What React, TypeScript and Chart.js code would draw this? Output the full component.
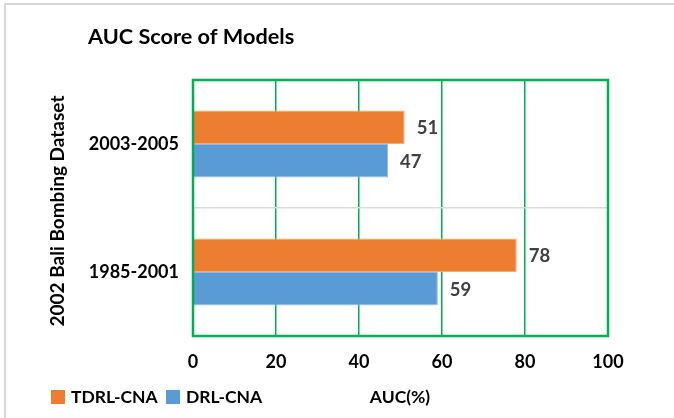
import { useEffect, useRef } from "react";
import { Chart, registerables } from "chart.js";

Chart.register(...registerables);

const categories = ["2003-2005", "1985-2001"];
const tdrlValues = [51, 78];
const drlValues = [47, 59];
const seriesNames = ["TDRL-CNA", "DRL-CNA"];
const xMin = 0;
const xMax = 100;
const xStep = 20;
const chartTitle = "AUC Score of Models";
const xAxisTitle = "AUC(%)";
const yAxisTitle = "2002 Bali Bombing Dataset";

const ORANGE = "#ED7D31";
const BLUE = "#5B9BD5";
const GREEN = "#00B050";
const FONT = "Lato, 'Open Sans', sans-serif";

export default function App() {
  const ref = useRef<HTMLCanvasElement | null>(null);

  useEffect(() => {
    if (!ref.current) return;

    const decor = {
      id: "decor",
      beforeDraw(chart: any) {
        const ctx = chart.ctx;
        ctx.save();
        ctx.fillStyle = "#ffffff";
        ctx.fillRect(0, 0, chart.width, chart.height);
        ctx.strokeStyle = "#d9d9d9";
        ctx.lineWidth = 2;
        ctx.beginPath();
        ctx.moveTo(5, chart.height);
        ctx.lineTo(5, 4);
        ctx.lineTo(chart.width, 4);
        ctx.stroke();
        ctx.restore();
      },
      afterDatasetsDraw(chart: any) {
        const ctx = chart.ctx;
        const a = chart.chartArea;
        ctx.save();
        ctx.strokeStyle = GREEN;
        ctx.lineWidth = 2.5;
        ctx.strokeRect(a.left, a.top, a.right - a.left, a.bottom - a.top);
        ctx.font = `bold 18.5px ${FONT}`;
        ctx.fillStyle = "#404040";
        ctx.textAlign = "left";
        ctx.textBaseline = "middle";
        chart.data.datasets.forEach((ds: any, di: number) => {
          const meta = chart.getDatasetMeta(di);
          meta.data.forEach((bar: any, i: number) => {
            ctx.fillText(String(ds.data[i]), bar.x + 12, bar.y + 1);
          });
        });
        ctx.restore();
      },
      afterDraw(chart: any) {
        const ctx = chart.ctx;
        ctx.save();
        ctx.fillStyle = "#000000";
        ctx.textBaseline = "middle";
        ctx.textAlign = "left";
        ctx.font = `bold 21.7px ${FONT}`;
        ctx.fillText(chartTitle, 88, 37);
        ctx.font = `bold 17.5px ${FONT}`;
        ctx.textAlign = "center";
        ctx.fillText(xAxisTitle, 400, 397);
        ctx.save();
        ctx.font = `bold 19px ${FONT}`;
        ctx.translate(58, 211);
        ctx.rotate(-Math.PI / 2);
        ctx.fillText(yAxisTitle, 0, 0);
        ctx.restore();
        // legend
        ctx.textAlign = "left";
        const colors = [ORANGE, BLUE];
        const boxX = [51, 166];
        const textX = [71, 186];
        seriesNames.forEach((n, i) => {
          ctx.fillStyle = colors[i];
          ctx.fillRect(boxX[i], 390, 14, 14);
          ctx.fillStyle = "#000000";
          ctx.fillText(n, textX[i], 397);
        });
        ctx.restore();
      },
    };

    const chart = new Chart(ref.current, {
      type: "bar",
      data: {
        labels: categories,
        datasets: [
          {
            label: seriesNames[0],
            data: tdrlValues,
            backgroundColor: ORANGE,
            borderColor: "#F5A870",
            borderWidth: 1,
            categoryPercentage: 0.525,
            barPercentage: 1,
          },
          {
            label: seriesNames[1],
            data: drlValues,
            backgroundColor: BLUE,
            borderColor: "#8DBDE6",
            borderWidth: 1,
            categoryPercentage: 0.525,
            barPercentage: 1,
          },
        ],
      },
      options: {
        indexAxis: "y",
        animation: false,
        responsive: true,
        maintainAspectRatio: false,
        layout: { padding: { top: 80, right: 66, left: 0, bottom: 0 } },
        plugins: {
          legend: { display: false },
          title: { display: false },
          tooltip: { enabled: false },
        },
        scales: {
          x: {
            min: xMin,
            max: xMax,
            ticks: {
              stepSize: xStep,
              color: "#000000",
              font: { family: FONT, size: 18, weight: "bold" },
              padding: 15,
            },
            grid: { color: GREEN, lineWidth: 1.5, drawTicks: false },
            border: { display: false },
            afterFit(scale: any) {
              scale.height = 82;
            },
          },
          y: {
            ticks: {
              color: "#000000",
              font: { family: FONT, size: 18, weight: "bold" },
              padding: 14,
            },
            grid: {
              color: (c: any) => (c.index === 1 ? "#d9d9d9" : "rgba(0,0,0,0)"),
              lineWidth: 1.5,
              drawTicks: false,
            },
            border: { display: false },
            afterFit(scale: any) {
              scale.width = 193;
            },
          },
        },
      },
      plugins: [decor],
    });

    return () => chart.destroy();
  }, []);

  return (
    <div style={{ position: "absolute", left: 0, top: 0, width: 674, height: 418 }}>
      <canvas ref={ref} />
    </div>
  );
}
